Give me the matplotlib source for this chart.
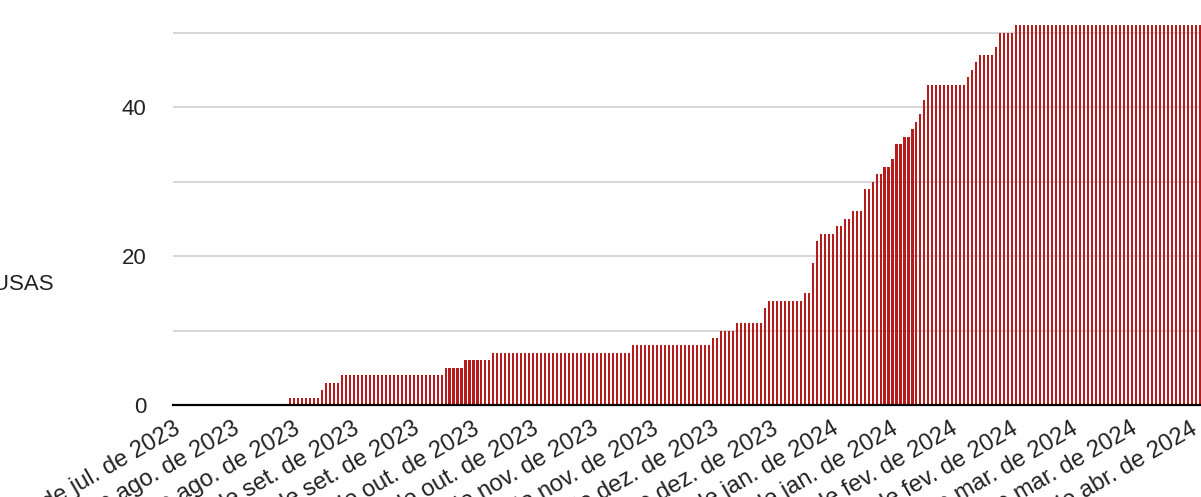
import matplotlib
matplotlib.use('Agg')
import matplotlib.pyplot as plt
import numpy as np
import pandas as pd

plt.rcParams['font.family'] = ['Liberation Sans', 'DejaVu Sans']

inicio = '2023-07-23'
# causas acumuladas por dia: (valor, nº de dias seguidos com esse valor)
niveis = [0, 1, 2, 3, 4, 5, 6, 7, 8, 9, 10, 11, 13, 14, 15, 19, 22, 23, 24, 25,
          26, 29, 30, 31, 32, 33, 35, 36, 37, 38, 39, 41, 43, 44, 45, 46, 47, 48, 50, 51]
dias = [29, 8, 1, 4, 26, 5, 7, 35, 20, 2, 4, 7, 1, 9, 2, 1, 1, 4, 2, 2,
        3, 2, 1, 2, 2, 1, 2, 2, 1, 1, 1, 1, 10, 1, 1, 1, 4, 1, 4, 47]
y_ticks = [0, 10, 20, 30, 40, 50]
y_rotulos = ['0', '', '20', '', '40', '']
meses = ['jan.', 'fev.', 'mar.', 'abr.', 'mai.', 'jun.',
         'jul.', 'ago.', 'set.', 'out.', 'nov.', 'dez.']
titulo_y = 'CAUSAS'

valores = np.repeat(niveis, dias)
datas = pd.date_range(inicio, periods=len(valores), freq='D')
datas_ticks = datas[1::15]
rotulos_x = [f'{d.day} de {meses[d.month - 1]} de {d.year}' for d in datas_ticks]

W, H = 1201, 497
fig = plt.figure(figsize=(W / 100, H / 100), dpi=100)
ax = fig.add_axes([173 / W, 92 / H, 1028 / W, (405 - 17.6) / H])

ax.bar(datas, valores, width=0.52, color='#b71c1c', zorder=2)
ax.set_ylim(0, 52)
ax.set_xlim(datas[0] - pd.Timedelta(hours=7), datas[0] + pd.Timedelta(days=257.3))

ax.set_yticks(y_ticks)
ax.set_yticklabels(y_rotulos)
ax.grid(axis='y', color='#cccccc', linewidth=1.1)
ax.set_axisbelow(True)
ax.axhline(0, color='black', linewidth=1.6, clip_on=False, zorder=3)
for s in ax.spines.values():
    s.set_visible(False)
ax.tick_params(axis='y', length=0, pad=19, labelsize=16, labelcolor='#222222')

ax.set_xticks(datas_ticks)
ax.set_xticklabels(rotulos_x, rotation=30, ha='right', va='center',
                   rotation_mode='anchor', fontsize=17, color='#222222')
ax.tick_params(axis='x', length=0, pad=16)

fig.text(54 / W, 1 - 285 / H, titulo_y, ha='right', va='center',
         fontsize=16, color='#222222')

fig.savefig('out.png', dpi=100)
